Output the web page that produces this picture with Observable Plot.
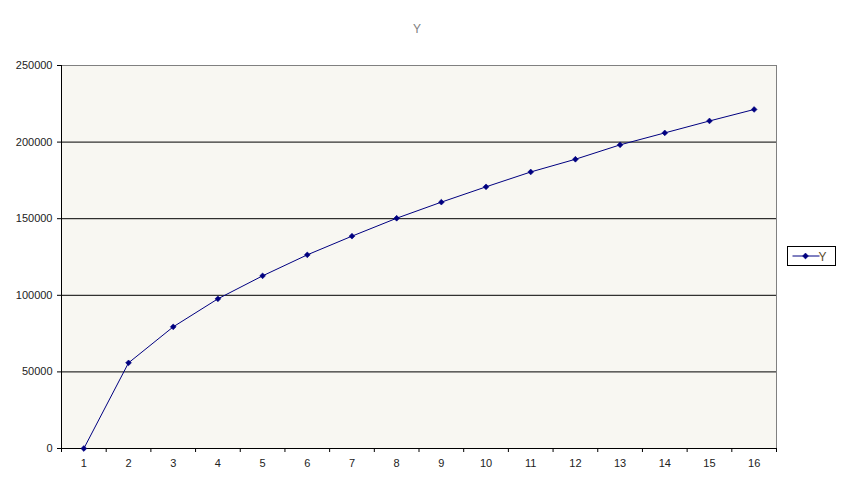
<!DOCTYPE html>
<html>
<head>
<meta charset="utf-8">
<script src="https://cdn.jsdelivr.net/npm/d3@7"></script>
<script src="https://cdn.jsdelivr.net/npm/@observablehq/plot@0.6"></script>
<style>
  html, body { margin: 0; padding: 0; background: #fff; }
  #wrap { position: relative; width: 846px; height: 491px; }
</style>
</head>
<body>
<div id="wrap"></div>
<script>
const categories = [1, 2, 3, 4, 5, 6, 7, 8, 9, 10, 11, 12, 13, 14, 15, 16];
const yValues = [0, 55900, 79400, 97700, 112700, 126400, 138600, 150300, 160800, 170800, 180500, 188800, 198200, 206000, 213800, 221300];
const yTicks = [0, 50000, 100000, 150000, 200000, 250000];
const seriesName = "Y";
const chartTitle = "Y";

const data = categories.map((c, i) => ({x: c, y: yValues[i]}));
const boundaries = [categories[0] - 0.5, ...categories.map(c => c + 0.5)];
const font = "'Liberation Sans', Arial, sans-serif";

const chart = Plot.plot({
  width: 846,
  height: 491,
  marginLeft: 61,
  marginRight: 70,
  marginTop: 65,
  marginBottom: 43,
  style: {fontFamily: font, fontSize: "11px", color: "#222", background: "#fff"},
  x: {type: "linear", domain: [boundaries[0], boundaries[boundaries.length - 1]]},
  y: {domain: [yTicks[0], yTicks[yTicks.length - 1]]},
  marks: [
    Plot.frame({fill: "#F8F7F2", stroke: "#808080"}),
    Plot.gridY(yTicks.slice(1, -1), {stroke: "#000", strokeOpacity: 1, strokeWidth: 1}),
    Plot.ruleX([boundaries[0]], {stroke: "#000"}),
    Plot.ruleY([yTicks[0]], {stroke: "#000"}),
    Plot.axisY(yTicks, {tickSize: 4, tickPadding: 5, label: null, tickFormat: d => String(d), stroke: "#000", fill: "#222"}),
    Plot.axisX(boundaries, {tickSize: 4, tickFormat: () => "", label: null, stroke: "#000"}),
    Plot.axisX(categories, {tickSize: 0, tickPadding: 11, label: null, tickFormat: d => String(d), fill: "#222"}),
    Plot.line(data, {x: "x", y: "y", stroke: "#000080", strokeWidth: 1}),
    Plot.dot(data, {x: "x", y: "y", symbol: d3.symbolDiamond2, r: 2.6, fill: "#000080", stroke: "#000080", strokeWidth: 0.6}),
    Plot.text([chartTitle], {frameAnchor: "top", dy: -41, dx: -2, text: d => d, fill: "#808080", fontSize: 12})
  ]
});

document.getElementById("wrap").appendChild(chart);

// Legend
const svg = d3.select(chart);
const lg = svg.append("g").attr("transform", "translate(787.5,246.5)");
lg.append("rect").attr("width", 48).attr("height", 19).attr("fill", "#fff").attr("stroke", "#000");
lg.append("line").attr("x1", 5).attr("x2", 32).attr("y1", 9.5).attr("y2", 9.5).attr("stroke", "#000080");
lg.append("path").attr("d", d3.symbol(d3.symbolDiamond2, 22)()).attr("transform", "translate(18,9.5)").attr("fill", "#000080").attr("stroke", "#000080").attr("stroke-width", 0.6);
lg.append("text").attr("x", 35).attr("y", 14).attr("font-family", font).attr("font-size", 12).attr("fill", "#5a4a2a").text(seriesName);
</script>
</body>
</html>
